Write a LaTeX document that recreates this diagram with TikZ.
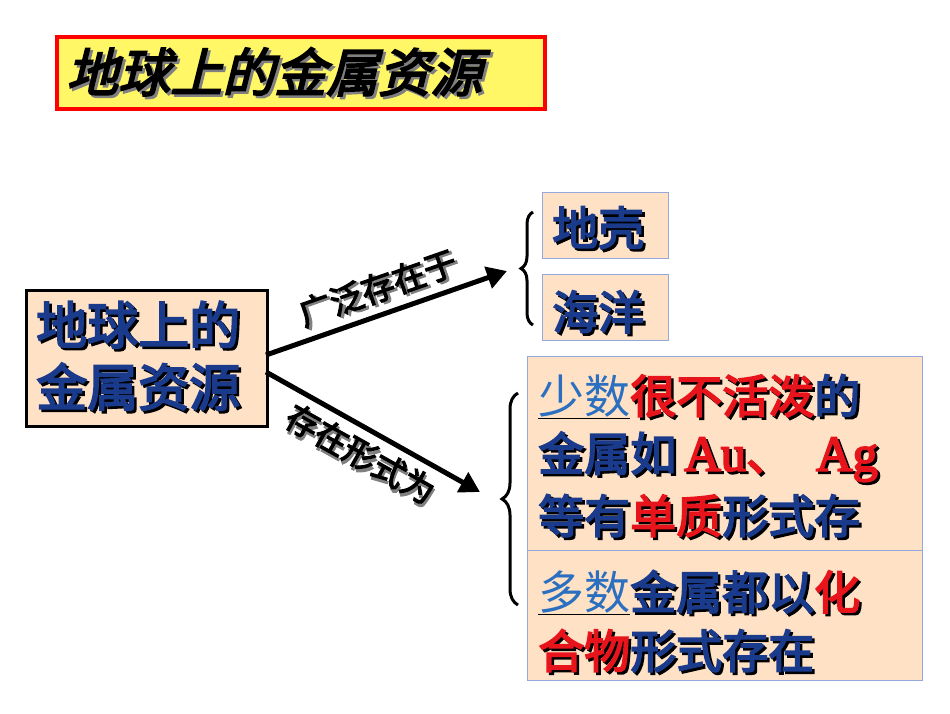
\documentclass[tikz,border=0pt]{standalone}
\usepackage{fontspec}
\newfontfamily\cjk{Noto Sans CJK SC}[FakeBold=3.5]
\newfontfamily\cjkit{Noto Sans CJK SC}[FakeBold=3.5,FakeSlant=0.25]
\newfontfamily\lat{Liberation Serif}[FakeBold=3.5,Scale=1.1]
\usetikzlibrary{decorations.pathreplacing,arrows.meta}
\definecolor{dblue}{HTML}{1A3A8C}
\definecolor{myred}{HTML}{E8141C}
\definecolor{lblue}{HTML}{2A6FC0}
\definecolor{peach}{HTML}{FFE2C6}
\definecolor{bord}{HTML}{94A8DC}
\newcommand\ST[2]{\rlap{\kern2.5pt\raisebox{-2.5pt}{\color{black}#2}}{\color{#1}#2}}
\newcommand\SG[2]{\rlap{\kern2.5pt\raisebox{-2.5pt}{\color{gray}#2}}{\color{#1}#2}}
\tikzset{peachbox/.style={draw=bord,fill=peach,line width=0.8pt},
 big/.style={font=\cjk\fontsize{46}{62}\selectfont,anchor=west,inner sep=0pt},
 arr/.style={line width=5pt,-{Triangle[length=20pt,width=22pt]}},
 brc/.style={line width=3pt,decorate,decoration={brace,amplitude=12pt}}}
\begin{document}
\begin{tikzpicture}[x=1pt,y=-1pt]
\useasboundingbox (0,0) rectangle (950,713);
% title
\node[draw=red,line width=4pt,fill=yellow!60,minimum width=488pt,minimum height=72pt,anchor=north west,inner sep=0pt] (title) at (55,35) {};
\node[font=\cjkit\fontsize{52}{52}\selectfont,anchor=west,inner sep=0pt] (tt) at (66,73) {\SG{black}{地球上的金属资源}};
% left box
\node[draw=black,line width=3pt,fill=peach,minimum width=241pt,minimum height=136pt,anchor=north west,inner sep=0pt] (src) at (25,289) {};
\node[font=\cjk\fontsize{51}{62}\selectfont,align=left,anchor=west,inner sep=0pt] (srct) at (36,357) {\ST{dblue}{地球上的}\\\ST{dblue}{金属资源}};
% top boxes
\node[peachbox,minimum width=126pt,minimum height=66pt,anchor=north west,inner sep=0pt] (crust) at (542,192) {};
\node[big] (crustt) at (552,229) {\ST{dblue}{地壳}};
\node[peachbox,minimum width=126pt,minimum height=66pt,anchor=north west,inner sep=0pt] (sea) at (542,274) {};
\node[big] (seat) at (552,313) {\ST{dblue}{海洋}};
% bottom boxes
\node[peachbox,minimum width=395pt,minimum height=196pt,anchor=north west,inner sep=0pt] (few) at (527,356) {};
\node[big] (l1) at (538,397) {\underline{\color{lblue}\fontspec{Noto Sans CJK SC}少数}\ST{myred}{很不活泼}\ST{dblue}{的}};
\node[big] (l2) at (538,458) {\ST{dblue}{金属如}\hspace{8pt}\ST{myred}{\lat Au}\ST{myred}{、}\hspace{24pt}\ST{myred}{\lat Ag}};
\node[big] (l3) at (538,517) {\ST{dblue}{等有}\ST{myred}{单质}\ST{dblue}{形式存}};
\node[peachbox,minimum width=395pt,minimum height=130pt,anchor=north west,inner sep=0pt] (many) at (527,550) {};
\node[big] (l4) at (538,593) {\underline{\color{lblue}\fontspec{Noto Sans CJK SC}多数}\ST{dblue}{金属都以}\ST{myred}{化}};
\node[big] (l5) at (538,652) {\ST{myred}{合物}\ST{dblue}{形式存在}};
% arrows
\coordinate (a1s) at (266,355); \coordinate (a1e) at (507,271);
\coordinate (a2s) at (266,372); \coordinate (a2e) at (480,492);
\draw[arr] (a1s) -- (a1e) node[midway,above=3pt,sloped,font=\cjk\fontsize{33}{33}\selectfont] (lab1) {\SG{black}{广泛存在于}};
\draw[arr] (a2s) -- (a2e) node[pos=0.5,below=4pt,sloped,font=\cjk\fontsize{33}{33}\selectfont] (lab2) {\SG{black}{存在形式为}};
% braces
\coordinate (b1t) at (533,212); \coordinate (b1b) at (533,325);
\coordinate (b2t) at (518,393); \coordinate (b2b) at (518,605);
\draw[brc] (b1b) -- (b1t);
\draw[brc,decoration={amplitude=16pt}] (b2b) -- (b2t);
\end{tikzpicture}
\end{document}
